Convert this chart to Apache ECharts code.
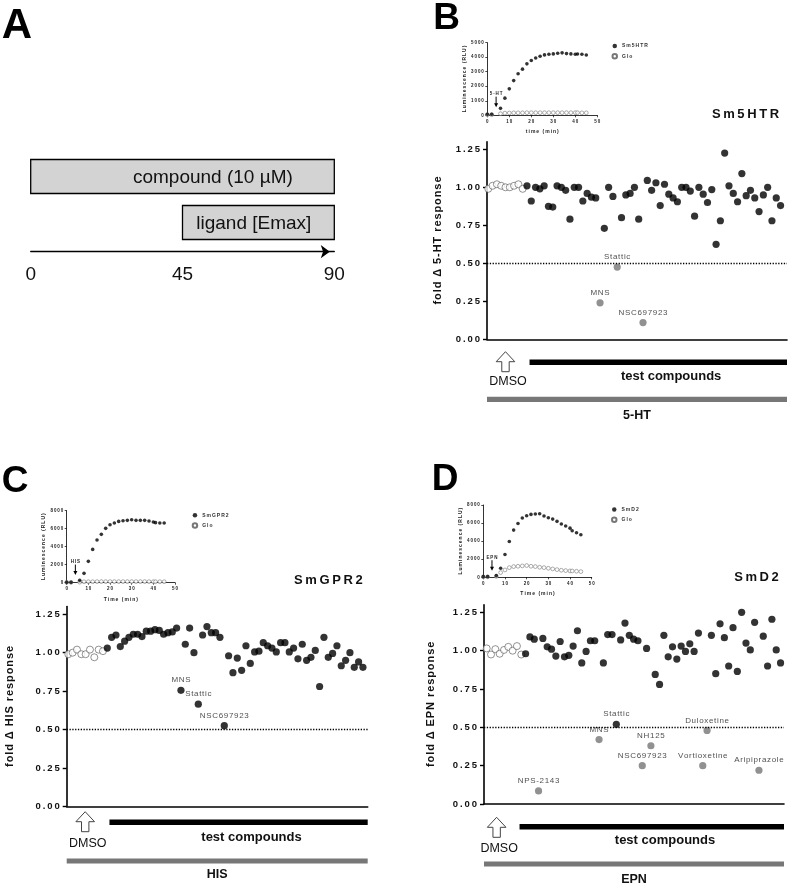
<!DOCTYPE html>
<html><head><meta charset="utf-8">
<script src="https://cdn.jsdelivr.net/npm/echarts@6/dist/echarts.min.js"></script>
<style>html,body{margin:0;padding:0;background:#fff}#c{width:789px;height:885px}</style>
</head><body><div id="c"></div>
<script>
// ================= DATA =================
// Panel A: schematic timeline (minutes)
const A_labels = ['compound (10 µM)', 'ligand [Emax]'];
const A_start = [0, 45];
const A_end = [90, 90];
const A_ticks = [0, 45, 90];

// Kinetic insets (time in min, luminescence in RLU)
const inset_time = [0,2,6,8,10,12,14,16,18,20,22,24,26,28,30,32,34,36,38,40,41,43,45];
const B_receptor = [70,70,480,1180,1820,2390,2860,3180,3545,3770,3950,4070,4160,4200,4230,4270,4300,4250,4230,4200,4220,4200,4150];
const B_glo      = [40,40,110,150,160,170,170,170,180,180,180,180,180,180,180,180,180,180,180,180,180,170,170];
const C_receptor = [37,37,260,1040,2370,3700,4740,5370,6040,6440,6630,6810,6890,6930,7000,6930,6930,6930,6850,6740,6670,6630,6630];
const C_glo      = [40,40,60,100,110,110,120,120,120,120,120,120,120,120,120,120,120,120,120,110,110,110,110];
const D_receptor = [70,70,185,1000,2520,3960,5220,5960,6560,6810,6960,7000,7040,6780,6590,6440,6190,5890,5670,5440,5150,4930,4700];
const D_glo      = [50,50,100,520,815,1070,1185,1220,1260,1300,1220,1185,1110,1070,1000,925,850,780,740,700,700,670,630];

// Screens: wells 1-9 DMSO, wells 10-69 test compounds (fold change)
const B_dmso = [0.99,1.01,1.02,1.01,1.00,1.00,1.01,1.02,0.99];
const B_cmpd = [1.01,0.91,1.00,0.99,1.01,0.875,0.87,1.01,1.00,0.98,
                0.79,1.00,1.00,0.91,0.96,0.935,0.93,0.24,0.73,1.00,
                0.94,0.475,0.80,0.95,0.96,1.00,0.79,0.11,1.045,0.98,
                1.03,0.88,1.02,0.955,0.93,0.905,1.00,1.00,0.975,0.81,
                1.00,0.955,0.90,0.985,0.625,0.78,1.225,1.01,0.96,0.905,
                1.09,0.945,0.98,0.93,0.84,0.95,1.00,0.78,0.93,0.88];
const B_hitPos = [27, 31, 37];
const B_hitNames = ['MNS', 'Stattic', 'NSC697923'];

const C_dmso = [0.99,1.00,1.02,0.99,0.99,1.02,0.97,1.02,1.01];
const C_cmpd = [1.03,1.10,1.115,1.04,1.075,1.10,1.12,1.12,1.105,1.14,
                1.14,1.15,1.145,1.12,1.13,1.135,1.16,0.755,1.055,1.16,
                1.00,0.665,1.115,1.17,1.13,1.13,1.10,0.525,0.98,0.87,
                0.965,0.885,1.045,0.93,1.005,1.01,1.065,1.045,1.03,1.005,
                1.065,1.065,1.005,1.03,0.96,1.055,0.95,0.97,1.015,0.78,
                1.10,0.97,0.995,1.045,0.915,0.95,1.00,0.905,0.94,0.905];
const C_hitPos = [27, 31, 37];
const C_hitNames = ['MNS', 'Stattic', 'NSC697923'];

const D_dmso = [1.015,0.975,1.01,0.98,1.005,1.025,1.00,1.03,0.975];
const D_cmpd = [0.98,1.09,1.075,0.085,1.08,1.025,1.01,0.965,1.06,0.96,
                0.97,1.03,1.13,0.92,0.995,1.065,1.065,0.42,0.92,1.105,
                1.105,0.52,1.07,1.18,1.10,1.075,1.065,0.25,1.015,0.38,
                0.845,0.78,1.10,0.96,1.025,0.945,1.03,0.995,1.045,0.995,
                1.115,0.25,0.48,1.10,0.85,1.175,1.085,0.90,1.15,0.865,
                1.25,1.05,1.005,1.185,0.22,1.095,0.90,1.205,1.005,0.92];
const D_hitPos = [13, 27, 31, 37, 39, 51, 52, 64];
const D_hitNames = ['NPS-2143','MNS','Stattic','NSC697923','NH125','Vortioxetine','Duloxetine','Aripiprazole'];

const yTicks = [0, 0.25, 0.5, 0.75, 1.0, 1.25];

// ================= STYLE / LAYOUT =================
const FONT = '"Liberation Sans", Arial, Helvetica, sans-serif';
const HAIR = '\u200A', THIN = '\u2009';
const spaced = (s, g) => String(s).split('').join(g || HAIR);

const option = {
  animation: false, backgroundColor: '#fff',
  textStyle: { fontFamily: FONT },
  grid: [], xAxis: [], yAxis: [], series: [], legend: [], graphic: []
};

// ---------- Panel A ----------
option.grid.push({ left: 30.7, top: 153.5, width: 303.6, height: 92 });
option.xAxis.push({ type: 'value', gridIndex: 0, min: 0, max: 90, offset: 6.2,
  axisLine: { show: true, symbol: ['none', 'arrow'], symbolSize: [10, 9], symbolOffset: [0, -4.5], lineStyle: { color: '#000', width: 1.3 } },
  axisTick: { show: false }, splitLine: { show: false },
  axisLabel: { customValues: A_ticks, fontSize: 19, color: '#111', margin: 14 } });
option.yAxis.push({ type: 'category', gridIndex: 0, data: A_labels, inverse: true, show: false });
const A_textFrac = [0.6, 0.47];
option.series.push({ type: 'custom', xAxisIndex: 0, yAxisIndex: 0, silent: true,
  data: A_labels.map((l, i) => [A_start[i], A_end[i], i]),
  encode: { x: [0, 1], y: 2 },
  renderItem: (params, api) => {
    const i = params.dataIndex;
    const s = api.coord([api.value(0), api.value(2)]);
    const e = api.coord([api.value(1), api.value(2)]);
    const h = api.size([0, 1])[1] * 0.74;
    return { type: 'group', children: [
      { type: 'rect', shape: { x: s[0], y: s[1] - h / 2, width: e[0] - s[0], height: h },
        style: { fill: '#d3d3d3', stroke: '#000', lineWidth: 1.3 } },
      { type: 'text', style: { text: A_labels[i], x: s[0] + (e[0] - s[0]) * A_textFrac[i], y: s[1] + 1,
        align: 'center', verticalAlign: 'middle', font: '19px ' + FONT, fill: '#111' } }
    ] };
  } });

// ---------- Insets ----------
function buildInset(p) {
  const gi = option.grid.length;
  option.grid.push(p.grid);
  option.xAxis.push({ type: 'value', gridIndex: gi, min: 0, max: 50, interval: 10,
    name: spaced(p.xname, THIN), nameLocation: 'middle', nameGap: p.xNameGap,
    nameTextStyle: { fontSize: 5, fontWeight: 'bold', color: '#222' },
    axisLine: { lineStyle: { color: '#000', width: 0.8 } },
    axisTick: { length: 2, lineStyle: { width: 0.7 } },
    axisLabel: { fontSize: 4.5, fontWeight: 'bold', color: '#222', margin: 3.5, formatter: v => spaced(v, THIN) },
    splitLine: { show: false } });
  option.yAxis.push({ type: 'value', gridIndex: gi, min: 0, max: p.ymax, interval: p.yint,
    name: spaced('Luminescence (RLU)', THIN), nameLocation: 'middle', nameGap: p.yNameGap, nameRotate: 90,
    nameTextStyle: { fontSize: 5, fontWeight: 'bold', color: '#222' },
    axisLine: { show: true, lineStyle: { color: '#000', width: 0.8 } },
    axisTick: { show: true, length: 2, lineStyle: { width: 0.7 } },
    axisLabel: { fontSize: 4.5, fontWeight: 'bold', color: '#222', margin: 3.5, formatter: v => spaced(v, THIN) },
    splitLine: { show: false } });
  option.series.push({ name: 'Glo', type: 'scatter', xAxisIndex: gi, yAxisIndex: gi,
    symbol: 'circle', symbolSize: 3.8, itemStyle: { color: '#fff', borderColor: '#555', borderWidth: 0.6 },
    data: inset_time.map((t, i) => [t, p.glo[i]]) });
  option.series.push({ name: p.receptor, type: 'scatter', xAxisIndex: gi, yAxisIndex: gi,
    symbol: 'circle', symbolSize: 3.6, itemStyle: { color: '#000' }, z: 3,
    data: inset_time.map((t, i) => [t, p.rec[i]]) });
  option.series.push({ type: 'custom', xAxisIndex: gi, yAxisIndex: gi, silent: true, clip: false,
    data: [[p.stimTime, p.stimTip]],
    renderItem: (params, api) => {
      const tip = api.coord([api.value(0), api.value(1)]);
      const x = tip[0], yb = tip[1], yt = yb - 10.5;
      return { type: 'group', children: [
        { type: 'line', shape: { x1: x, y1: yt, x2: x, y2: yb - 3 }, style: { stroke: '#000', lineWidth: 1 } },
        { type: 'polygon', shape: { points: [[x - 2, yb - 4], [x + 2, yb - 4], [x, yb]] }, style: { fill: '#000' } },
        { type: 'text', style: { text: spaced(p.stim, THIN), x: x, y: yt - 2.5, align: 'center', verticalAlign: 'middle',
          font: 'bold 4.5px ' + FONT, fill: '#222' } }
      ] };
    } });
  option.legend.push({ left: p.legend[0], top: p.legend[1], orient: 'vertical', itemGap: 4.5,
    itemWidth: 4.5, itemHeight: 4.5, padding: 0, selectedMode: false,
    textStyle: { fontSize: 5, fontWeight: 'bold', color: '#333' },
    formatter: n => spaced(n, THIN),
    data: [p.receptor, 'Glo'] });
}

// ---------- Main screens ----------
function buildMain(p) {
  const gi = option.grid.length;
  option.grid.push(p.grid);
  option.xAxis.push({ type: 'value', gridIndex: gi, min: p.xmin, max: p.xmax,
    axisLine: { show: true, onZero: false, lineStyle: { color: '#000', width: 1.6 } },
    axisTick: { show: false }, axisLabel: { show: false }, splitLine: { show: false } });
  option.yAxis.push({ type: 'value', gridIndex: gi, min: 0, max: 1.3,
    name: spaced(p.ytitle, HAIR), nameLocation: 'middle', nameRotate: 90, nameGap: p.nameGap,
    nameTextStyle: { fontSize: 11, fontWeight: 'bold', color: '#111' },
    axisLine: { show: true, lineStyle: { color: '#000', width: 1.6 } },
    axisTick: { show: true, length: 4, customValues: yTicks, lineStyle: { color: '#000', width: 1.4 } },
    axisLabel: { customValues: yTicks, formatter: v => spaced(v.toFixed(2), THIN), fontSize: 9.5,
      fontWeight: 'bold', color: '#111', margin: 7 },
    splitLine: { show: false } });
  option.series.push({ type: 'scatter', xAxisIndex: gi, yAxisIndex: gi, symbol: 'circle', symbolSize: 7,
    itemStyle: { color: '#fff', borderColor: '#555', borderWidth: 0.8 },
    data: p.dmso.map((v, i) => [i + 1, v]) });
  const first = p.dmso.length + 1;
  option.series.push({ type: 'scatter', xAxisIndex: gi, yAxisIndex: gi, symbol: 'circle', symbolSize: 7.2,
    itemStyle: { color: '#000' },
    label: { show: false },
    data: p.cmpd.map((v, i) => {
      const pos = first + i;
      const h = p.hitPos.indexOf(pos);
      if (h < 0) return [pos, v];
      return { value: [pos, v], name: p.hitNames[h],
        itemStyle: { color: v < 0.5 ? '#767676' : '#000' },
        label: { show: true, position: 'top', distance: 2.5, formatter: spaced(p.hitNames[h], HAIR),
          fontSize: 8, color: '#222' } };
    }),
    markLine: { silent: true, symbol: 'none', label: { show: false },
      lineStyle: { type: [1.3, 1.5], color: '#000', width: 1.3 },
      data: [{ yAxis: 0.5 }] } });
  option.series.push({ type: 'custom', xAxisIndex: gi, yAxisIndex: gi, silent: true, clip: false,
    data: [[p.xmin, 0]],
    renderItem: (params, api) => {
      const o = p.off;
      const base = api.coord([p.xmin, 0]);
      const y0 = base[1], xL = base[0];
      const xR = api.coord([p.xmax, 0])[0];
      const xb = api.coord([p.barStart, 0])[0];
      const xa = api.coord([p.arrowAt, 0])[0];
      const ty = y0 + o.arrowTop, h = o.arrowBot - o.arrowTop;
      return { type: 'group', children: [
        { type: 'rect', shape: { x: xL, y: y0 + o.gray - 2.6, width: xR - xL, height: 5.2 }, style: { fill: '#777' } },
        { type: 'rect', shape: { x: xb, y: y0 + o.black - 2.8, width: xR - xb, height: 5.6 }, style: { fill: '#000' } },
        { type: 'polygon', shape: { points: [[xa, ty], [xa + 9.3, ty + h / 2], [xa + 3.7, ty + h / 2], [xa + 3.7, ty + h],
          [xa - 3.7, ty + h], [xa - 3.7, ty + h / 2], [xa - 9.3, ty + h / 2]] },
          style: { fill: '#fff', stroke: '#444', lineWidth: 1 } },
        { type: 'text', style: { text: 'DMSO', x: xa + 2.5, y: y0 + o.dmso, align: 'center', verticalAlign: 'middle',
          font: '12.5px ' + FONT, fill: '#111' } },
        { type: 'text', style: { text: 'test compounds', x: xb + (xR - xb) * 0.55, y: y0 + o.tc, align: 'center',
          verticalAlign: 'middle', font: 'bold 13px ' + FONT, fill: '#111' } },
        { type: 'text', style: { text: p.ligand, x: (xL + xR) / 2, y: y0 + o.lig, align: 'center',
          verticalAlign: 'middle', font: 'bold 12.5px ' + FONT, fill: '#111' } }
      ] };
    } });
}

// Panel B
buildInset({ grid: { left: 487.3, top: 42.7, width: 110, height: 72.6 }, ymax: 5000, yint: 1000,
  xname: 'time (min)', xNameGap: 14, yNameGap: 17, receptor: 'Sm5HTR', rec: B_receptor, glo: B_glo,
  stim: '5-HT', stimTime: 4, stimTip: 560, legend: [611.5, 43.5] });
buildMain({ grid: { left: 487, top: 141.7, width: 300, height: 197.6 }, xmin: 0.7, xmax: 70.5,
  ytitle: 'fold Δ 5-HT response', nameGap: 44, dmso: B_dmso, cmpd: B_cmpd, hitPos: B_hitPos, hitNames: B_hitNames,
  ligand: '5-HT', arrowAt: 5, barStart: 10.6,
  off: { arrowTop: 12.4, arrowBot: 32.4, dmso: 42.4, black: 23, tc: 36.7, gray: 60, lig: 76.7 } });

// Panel C
buildInset({ grid: { left: 66.7, top: 510.7, width: 108.3, height: 72 }, ymax: 8000, yint: 2000,
  xname: 'Time (min)', xNameGap: 14, yNameGap: 18, receptor: 'SmGPR2', rec: C_receptor, glo: C_glo,
  stim: 'HIS', stimTime: 4, stimTip: 850, legend: [191.7, 512.7] });
buildMain({ grid: { left: 66.7, top: 606.6, width: 301, height: 199.7 }, xmin: 0.63, xmax: 70.1,
  ytitle: 'fold Δ HIS response', nameGap: 51, dmso: C_dmso, cmpd: C_cmpd, hitPos: C_hitPos, hitNames: C_hitNames,
  ligand: 'HIS', arrowAt: 4.9, barStart: 10.5,
  off: { arrowTop: 5.4, arrowBot: 25.4, dmso: 37, black: 16, tc: 31, gray: 54.7, lig: 68 } });

// Panel D
buildInset({ grid: { left: 483.3, top: 505, width: 108.4, height: 72.3 }, ymax: 8000, yint: 2000,
  xname: 'Time (min)', xNameGap: 14, yNameGap: 18, receptor: 'SmD2', rec: D_receptor, glo: D_glo,
  stim: 'EPN', stimTime: 4, stimTip: 730, legend: [611, 507] });
buildMain({ grid: { left: 484, top: 604.7, width: 300, height: 199.3 }, xmin: 0.375, xmax: 69.8,
  ytitle: 'fold Δ EPN response', nameGap: 48, dmso: D_dmso, cmpd: D_cmpd, hitPos: D_hitPos, hitNames: D_hitNames,
  ligand: 'EPN', arrowAt: 3.3, barStart: 8.6,
  off: { arrowTop: 13.3, arrowBot: 33.3, dmso: 45, black: 22.7, tc: 36.7, gray: 60, lig: 75.3 } });

// Panel letters and receptor titles
const letters = [['A', 17, 26, 42], ['B', 446.5, 19, 37], ['C', 15, 482, 37], ['D', 445, 480, 37]];
letters.forEach(([t, x, y, s]) => option.graphic.push({ type: 'text', x: x, y: y,
  style: { text: t, font: 'bold ' + s + 'px ' + FONT, fill: '#000', align: 'center', verticalAlign: 'middle' } }));
const titles = [['Sm5HTR', 745.5, 114], ['SmGPR2', 328.3, 580], ['SmD2', 756.5, 577.7]];
titles.forEach(([t, x, y]) => option.graphic.push({ type: 'text', x: x, y: y,
  style: { text: spaced(t, THIN), font: 'bold 13px ' + FONT, fill: '#111', align: 'center', verticalAlign: 'middle' } }));

const chart = echarts.init(document.getElementById('c'), null, { renderer: 'canvas' });
chart.setOption(option);
</script></body></html>
